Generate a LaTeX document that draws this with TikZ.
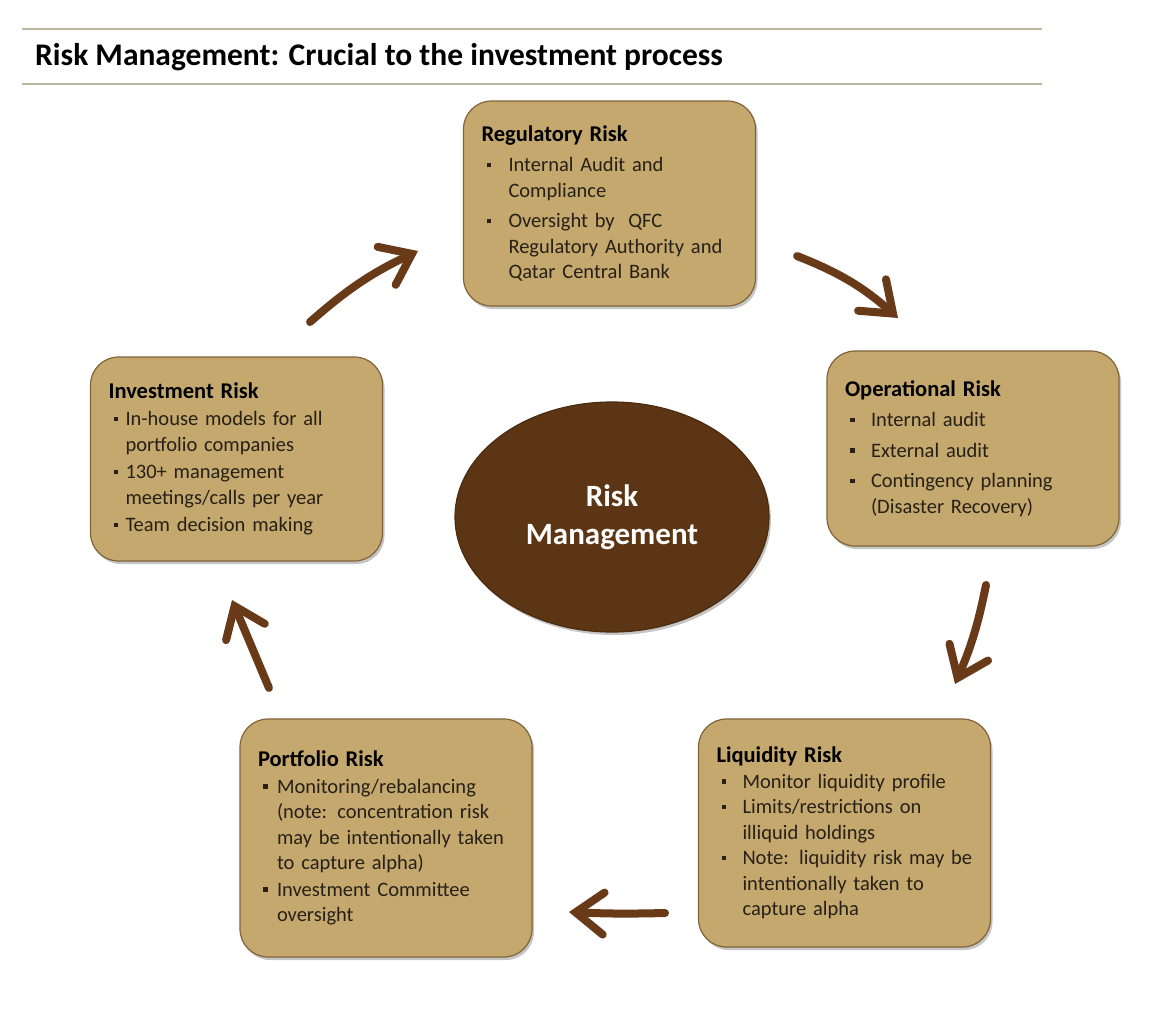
\documentclass[tikz,border=0pt]{standalone}
\usepackage{fontspec}
\setmainfont{Carlito}
\usetikzlibrary{arrows.meta,shadows,shapes.geometric}
\definecolor{rmtan}{RGB}{196,168,110}
\definecolor{rmedge}{RGB}{128,100,55}
\definecolor{rmbrown}{RGB}{92,54,20}
\definecolor{rmarrow}{RGB}{104,58,24}
\definecolor{rmrule}{RGB}{188,184,160}
\definecolor{rmtext}{RGB}{38,32,22}
\newlength\rmind
\newcommand\rmbul[1]{\par\hangindent=\rmind\hangafter=1\noindent
  \makebox[\rmind][l]{\hspace{5pt}\rule[.22em]{4.5pt}{4.5pt}}#1\par}

\begin{document}
\begin{tikzpicture}[x=1pt,y=-1pt,
  riskbox/.style 2 args={rectangle,rounded corners=28pt,fill=rmtan,draw=rmedge,
    line width=1.2pt,drop shadow={shadow xshift=2pt,shadow yshift=-3pt,opacity=.45},
    inner xsep=18pt,inner ysep=0pt,align=left,text=rmtext,text width=256pt,
    minimum width=292pt,font=\fontsize{20.5}{25.5}\selectfont,
    execute at begin node={\setlength\rmind{#1}\setlength\parskip{#2}}},
  rmflow/.style={rmarrow,line width=8pt,line cap=round,
    -{Straight Barb[length=28pt,width=42pt,line cap=round]}},
  rmline/.style={rmrule,line width=2.5pt}]
  \fill[white] (0,0) rectangle (1168,1026);
  \useasboundingbox (0,0) rectangle (1168,1026);

  % title between two rules
  \draw[rmline] (22,29) -- (1042,29);
  \draw[rmline] (22,84) -- (1042,84);
  \node[anchor=west,inner sep=0pt,font=\bfseries\fontsize{31.5}{36}\selectfont] (title) at (35,57)
    {Risk Management: Crucial to the investment process};

  % centre
  \node[ellipse,minimum width=314pt,minimum height=230pt,fill=rmbrown,draw=rmbrown!80!black,
    line width=1.2pt,drop shadow={shadow xshift=2pt,shadow yshift=-3pt,opacity=.45},
    text=white,align=center,font=\bfseries\fontsize{31}{38}\selectfont] (core) at (612,517)
    {Risk\\Management};

  % the five risks
  \node[riskbox={27pt}{5pt},minimum height=205pt] (reg) at (609.5,203.5)
    {{\bfseries\color{black}\fontsize{22.5}{27}\selectfont Regulatory Risk\par}
     \rmbul{Internal Audit and\newline Compliance}
     \rmbul{Oversight by\ \ QFC\newline Regulatory Authority and\newline Qatar Central Bank}};
  \node[riskbox={26pt}{5pt},minimum height=195pt] (ope) at (973,448.5)
    {{\bfseries\color{black}\fontsize{22.5}{27}\selectfont Operational Risk\par}
     \rmbul{Internal audit}
     \rmbul{External audit}
     \rmbul{Contingency planning\newline (Disaster Recovery)}};
  \node[riskbox={26pt}{0pt},minimum height=228pt] (liq) at (844.5,833)
    {{\bfseries\color{black}\fontsize{22.5}{27}\selectfont Liquidity Risk\par}
     \rmbul{Monitor liquidity profile}
     \rmbul{Limits/restrictions on\newline illiquid holdings}
     \rmbul{Note: liquidity risk may be\newline intentionally taken to\newline capture alpha}};
  \node[riskbox={19pt}{1pt},minimum height=238pt] (por) at (386,838)
    {{\bfseries\color{black}\fontsize{22.5}{27}\selectfont Portfolio Risk\par}
     \rmbul{Monitoring/rebalancing\newline (note: concentration risk\newline may be intentionally taken\newline to capture alpha)}
     \rmbul{Investment Committee\newline oversight}};
  \node[riskbox={17pt}{2pt},minimum height=204pt] (inv) at (236.5,459)
    {{\bfseries\color{black}\fontsize{22.5}{27}\selectfont Investment Risk\par}
     \rmbul{In-house models for all\newline portfolio companies}
     \rmbul{130+ management\newline meetings/calls per year}
     \rmbul{Team decision making}};

  % cycle arrows
  \coordinate (a1s) at (310,322);  \coordinate (a1e) at (418,251);
  \coordinate (a2s) at (797,256);  \coordinate (a2e) at (898,318);
  \coordinate (a3s) at (986,585);  \coordinate (a3e) at (955,684);
  \coordinate (a4s) at (665,913);  \coordinate (a4e) at (569,912);
  \coordinate (a5s) at (269,688);  \coordinate (a5e) at (232,600);
  \draw[rmflow] (a1s) to[bend left=8] (a1e);
  \draw[rmflow] (a2s) to[bend left=10] (a2e);
  \draw[rmflow] (a3s) to[bend left=6] (a3e);
  \draw[rmflow] (a4s) to[bend left=2] (a4e);
  \draw[rmflow] (a5s) -- (a5e);
\end{tikzpicture}
\end{document}
